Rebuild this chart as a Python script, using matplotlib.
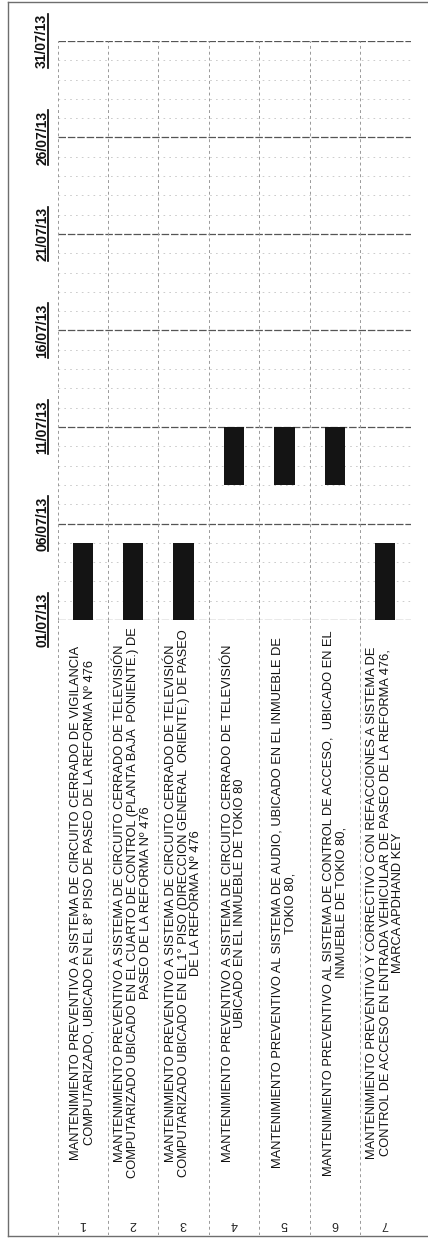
import matplotlib
matplotlib.use("Agg")
import matplotlib.pyplot as plt
from matplotlib.lines import Line2D
import numpy as np

plt.rcParams["font.family"] = ["Liberation Sans", "DejaVu Sans"]

# --- data -------------------------------------------------------------
task_numbers = ["1", "2", "3", "4", "5", "6", "7"]
task_names = [
    "MANTENIMIENTO PREVENTIVO A SISTEMA DE CIRCUITO CERRADO DE VIGILANCIA\n"
    "COMPUTARIZADO, UBICADO EN EL 8° PISO DE PASEO DE LA REFORMA Nº 476",
    "MANTENIMIENTO PREVENTIVO A SISTEMA DE CIRCUITO CERRADO DE TELEVISIÓN\n"
    "COMPUTARIZADO UBICADO EN EL CUARTO DE CONTROL (PLANTA BAJA  PONIENTE.) DE\n"
    "PASEO DE LA REFORMA Nº 476",
    "MANTENIMIENTO PREVENTIVO A SISTEMA DE CIRCUITO CERRADO DE TELEVISIÓN\n"
    "COMPUTARIZADO UBICADO EN EL 1° PISO (DIRECCION GENERAL  ORIENTE.) DE PASEO\n"
    "DE LA REFORMA Nº 476",
    "MANTENIMIENTO PREVENTIVO A SISTEMA DE CIRCUITO CERRADO DE TELEVISIÓN\n"
    "UBICADO EN EL INMUEBLE DE TOKIO 80",
    "MANTENIMIENTO PREVENTIVO AL SISTEMA DE AUDIO, UBICADO EN EL INMUEBLE DE\n"
    "TOKIO 80,",
    "MANTENIMIENTO PREVENTIVO AL SISTEMA DE CONTROL DE ACCESO,  UBICADO EN EL\n"
    "INMUEBLE DE TOKIO 80,",
    "MANTENIMIENTO PREVENTIVO Y CORRECTIVO CON REFACCIONES A SISTEMA DE\n"
    "CONTROL DE ACCESO EN ENTRADA VEHICULAR DE PASEO DE LA REFORMA 476,\n"
    "MARCA APDHAND KEY",
]
start_day = [1, 1, 1, 8, 8, 8, 1]   # day of July 2013
end_day = [5, 5, 5, 11, 11, 11, 5]
date_ticks = [1, 6, 11, 16, 21, 26, 31]
date_labels = ["01/07/13", "06/07/13", "11/07/13", "16/07/13",
               "21/07/13", "26/07/13", "31/07/13"]

# --- layout (pixels of the 428x1238 page) ------------------------------
W, H = 428, 1238
x0, x1 = 57.5, 410.5
y_top, y_mid, y_bot = 41, 620, 1235

fig = plt.figure(figsize=(W / 100, H / 100), dpi=100)

# outer frame
frame = fig.add_axes([8 / W, (H - 1236) / H, (427 - 8) / W, (1236 - 2) / H])
frame.set_xticks([])
frame.set_yticks([])
frame.patch.set_alpha(0)
for side in ["left", "top", "bottom"]:
    frame.spines[side].set_color("#6e6e6e")
    frame.spines[side].set_linewidth(1.0)
    frame.spines[side].set_linestyle((0, (4, 1)))
frame.spines["right"].set_visible(False)

# gantt grid
ax = fig.add_axes([x0 / W, (H - y_mid) / H, (x1 - x0) / W, (y_mid - y_top) / H])
n = len(task_names)
idx = np.arange(n)
ax.bar(idx, np.array(end_day) - np.array(start_day), bottom=start_day,
       width=0.4, color="#141414", zorder=3)
ax.set_xlim(-0.5, n - 0.5)
ax.set_ylim(date_ticks[0], date_ticks[-1])
ax.set_xticks([])
ax.set_yticks(date_ticks)
ax.set_yticks(np.arange(1, 32), minor=True)
ax.set_yticklabels(date_labels, rotation=90, va="center", fontsize=10,
                   fontweight="bold", color="#111111")
ax.tick_params(axis="y", which="both", length=0, pad=6)
ax.grid(axis="y", which="major", color="#555555", linewidth=0.9,
        linestyle=(0, (6, 1.5)), zorder=1)
ax.grid(axis="y", which="minor", color="#c4c4c4", linewidth=0.6,
        linestyle=(0, (2, 5)), zorder=1)
for s in ax.spines.values():
    s.set_visible(False)
for b in np.arange(n + 1) - 0.5:
    ax.axvline(b, color="#999999", linewidth=0.7, linestyle=(0, (3, 3)),
               zorder=2)

# task description table
lab = fig.add_axes([x0 / W, (H - y_bot) / H, (x1 - x0) / W, (y_bot - y_mid) / H])
lab.set_xlim(-0.5, n - 0.5)
lab.set_ylim(0, 1)
lab.axis("off")
for b in np.arange(n + 1) - 0.5:
    lab.axvline(b, color="#999999", linewidth=0.7, linestyle=(0, (3, 3)))
for i in idx:
    lab.text(i, 0.54, task_names[i], rotation=90, ha="center", va="center",
             multialignment="center", fontsize=9.3, linespacing=1.1,
             color="#111111")
    lab.text(i, 0.018, task_numbers[i], rotation=180, ha="center",
             va="center", fontsize=9, color="#222222")

# underline the date labels (baseline side is on the right when rotated)
fig.canvas.draw()
for t in ax.get_yticklabels():
    bb = t.get_window_extent()
    ux = (bb.x1 - 1.5) / W
    fig.add_artist(Line2D([ux, ux], [bb.y0 / H, bb.y1 / H], color="black",
                          linewidth=1.2))

fig.savefig("out.png", dpi=100, facecolor="white")
